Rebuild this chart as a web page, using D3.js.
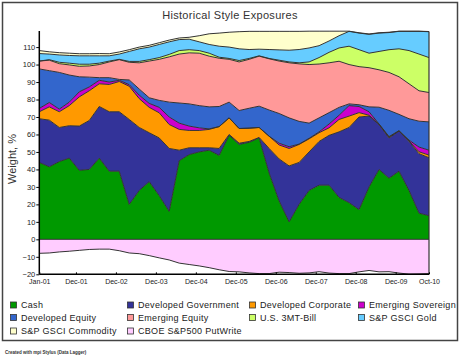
<!DOCTYPE html>
<html><head><meta charset="utf-8">
<script src="https://cdn.jsdelivr.net/npm/d3@7"></script>
<style>body{margin:0;background:#fff}svg{display:block}</style>
</head><body><svg id="c" width="461" height="360"></svg>
<script>
const dates = ["2001-01","2001-04","2001-07","2001-10","2002-01","2002-04","2002-07","2002-10",
"2003-01","2003-04","2003-07","2003-10","2004-01","2004-04","2004-07","2004-10",
"2005-01","2005-04","2005-07","2005-10","2006-01","2006-04","2006-07","2006-10",
"2007-01","2007-04","2007-07","2007-10","2008-01","2008-04","2008-07","2008-10",
"2009-01","2009-04","2009-07","2009-10","2010-01","2010-04","2010-07","2010-10"];
const cash      = [44,41.5,44.5,46.5,39.5,40,46.5,39,39,20,28,33,25,16,45,48.5,50,51,48,59.5,54.3,55.5,58,38,22,10,20,28,31,31,24,21,17,30,40,35,39,28,15,13.5];
const devGov    = [25,26.7,19.5,18.5,25.3,28,29.5,34,34,48.6,36,28,33,36,6,3.9,2.4,1.4,4,0.5,0.7,0.5,0.3,14,24,32,24,22,25,28.5,37.5,43,53,40.5,25.7,23,23,28,34,33.2];
const devCorp   = [4,7.6,9,11.5,16.7,17,13,15.6,17.3,19,16.5,14.5,14.4,13.7,11.9,9.9,9.9,10.5,12.5,9.5,8.4,7.6,5.7,7,8,10,10.3,7.5,5,4.3,7.1,6.5,2.5,0.5,0.2,0.5,0,0.3,1.1,1.5];
const emSov     = [1.9,2.5,1.5,2,2.9,2.2,2,1.4,0.7,0.9,2,2.3,3.1,4.3,3.6,2.5,1.5,0.3,0,0,0,0,0,0,1,1,0.2,0.3,0.5,2.2,2.4,6,3.5,2,0.1,0.3,0.2,0.5,2.7,2.8];
const devEq     = [22.6,18.2,21,15.5,8.6,5.6,1.5,2.5,0.5,2.7,3.5,3.2,4,8.5,11.5,12.7,12.7,12.6,11.5,9,10.3,11.4,12.2,15,17,16.5,13,8.7,8,6.5,4.5,1,1,2.8,9.6,15,9.3,12.2,14.8,16.2];
const emEq      = [4.5,6,5,5.8,6,6.4,7.5,9,11.3,10.1,15,21,23.5,25.9,28,29.2,30,29,27.6,24.5,27.8,28,28.6,29.3,30,31.5,32.9,33.5,30.8,28.5,26.4,22.5,21.8,22.4,21.4,21.7,21.5,20,17.4,16.8];
const tBill     = [0,0.3,0.8,1,1.2,1,0.8,0.5,0.2,0.5,0.8,0.8,1,1.4,2,1.8,1.5,1.7,0.6,0.5,0.8,0.5,0.2,0.2,0.5,0.5,0.6,1.5,3.7,6,7.6,10.5,9.7,8.3,10.5,13,16,19,21,20];
const gold      = [4.3,3.2,4.2,4.4,4.8,4.8,4.2,3,3,5.7,7.2,7.2,7.5,7.2,6.3,6,5,5,6.3,6.5,6.7,5.1,3.8,5.1,5.9,6.7,7.6,8,6.8,6.5,7,8.5,9.5,10.8,10.5,9.8,10,11,13,14.8];
const commodity = [1.7,1.3,1.3,1.3,1.2,1.2,1.3,1.2,1.2,1,1,1,1,1,0.9,1.1,3.5,6.1,7.5,8.5,9.8,10.4,10.2,10.4,10.6,10.8,10.4,9.6,8.3,5.6,2.6,0.1,0.2,0.2,0.2,0.2,0.1,0.1,0.1,0.1];
const putWrite  = [-8,-7.8,-7.2,-6.8,-6.3,-5.8,-5.6,-5.6,-6.5,-7.8,-8.2,-9.3,-10.6,-11.8,-13.6,-14.4,-15.2,-16.2,-17.4,-18.4,-18.6,-19.2,-19.6,-19.6,-18.8,-19,-19.4,-19.2,-18.5,-19.3,-19.6,-19.6,-18.6,-17.8,-18.6,-18.5,-19.3,-19.9,-19.8,-19.6];
const seriesNames = ["Cash","Developed Government","Developed Corporate","Emerging Sovereign","Developed Equity","Emerging Equity","U.S. 3MT-Bill","S&P GSCI Gold","S&P GSCI Commodity","CBOE S&P500 PutWrite"];
const colors = ["#009900","#333399","#FF9900","#CC00CC","#3366CC","#FF9999","#CCFF66","#66CCFF","#FFFFCC","#FFCCFF"];
const yTicks = [-20,-10,0,10,20,30,40,50,60,70,80,90,100,110];
const xTickDates = ["2001-01","2001-12","2002-12","2003-12","2004-12","2005-12","2006-12","2007-12","2008-12","2009-12","2010-10"];

const parse = d3.timeParse("%Y-%m");
const monthIdx = s => { const d = parse(s); return (d.getFullYear()-2001)*12 + d.getMonth(); };
const stackedArrays = [cash,devGov,devCorp,emSov,devEq,emEq,tBill,gold,commodity];
const keys = seriesNames.slice(0,9);
const table = dates.map((d,i) => { const o = {m: monthIdx(d)}; keys.forEach((k,j)=>o[k]=stackedArrays[j][i]); o.put = putWrite[i]; return o; });

const svg = d3.select("#c");
svg.append("rect").attr("x",0).attr("y",0).attr("width",461).attr("height",360).attr("fill","#fff");
svg.append("rect").attr("x",2.5).attr("y",2.5).attr("width",455).attr("height",338).attr("fill","none").attr("stroke","#444").attr("stroke-width",1.5);

const x = d3.scaleLinear().domain([0, 117]).range([39.3, 429]);
const y = d3.scaleLinear().domain([-20, 119.2]).range([274.3, 31]);

const stack = d3.stack().keys(keys)(table);
const area = d3.area().x(d=>x(d.data.m)).y0(d=>y(d[0])).y1(d=>y(d[1]));
svg.append("g").selectAll("path").data(stack).join("path").attr("d",area).attr("fill",(d,i)=>colors[i]);
const putArea = d3.area().x(d=>x(d.m)).y0(y(0)).y1(d=>y(d.put));
svg.append("path").datum(table).attr("d",putArea).attr("fill",colors[9]);

const line = d3.line().x(d=>x(d.data.m)).y(d=>y(d[1]));
svg.append("g").selectAll("path").data(stack).join("path").attr("d",line).attr("fill","none").attr("stroke","#333").attr("stroke-width",1);
svg.append("path").datum(table).attr("d",d3.line().x(d=>x(d.m)).y(d=>y(d.put))).attr("fill","none").attr("stroke","#333").attr("stroke-width",1);
svg.append("line").attr("x1",x(0)).attr("x2",x(117)).attr("y1",y(0)).attr("y2",y(0)).attr("stroke","#333");
const last = table[table.length-1];
svg.append("line").attr("x1",x(117)).attr("x2",x(117)).attr("y1",y(stack[8][stack[8].length-1][1])).attr("y2",y(-20)).attr("stroke","#333").attr("stroke-width",1.2);

// axes
const yAxis = d3.axisLeft(y).tickValues(yTicks).tickSize(3).tickPadding(1);
const gy = svg.append("g").attr("transform","translate(39.3,0)").call(yAxis);
gy.select(".domain").attr("d","M0,31V274.3").attr("stroke","#000").attr("stroke-width",1.5);
gy.selectAll("text").attr("font-family","Liberation Sans, Arial, sans-serif").attr("font-size",7.5).attr("fill","#222");
const xAxis = d3.axisBottom(x).tickValues(xTickDates.map(monthIdx)).tickSize(-2).tickPadding(5)
  .tickFormat(m => d3.timeFormat("%b-%y")(new Date(2001, m, 1)));
const gx = svg.append("g").attr("transform","translate(0,274.3)").call(xAxis);
gx.select(".domain").attr("d","M39.3,0H429").attr("stroke","#000").attr("stroke-width",1.5);
gx.selectAll("text").attr("font-family","Liberation Sans, Arial, sans-serif").attr("font-size",7).attr("fill","#222");

svg.append("text").attr("x",230).attr("y",19).attr("text-anchor","middle").attr("font-family","Liberation Sans, Arial, sans-serif").attr("font-size",11).attr("fill","#333").attr("letter-spacing",0.3).text("Historical Style Exposures");
svg.append("text").attr("transform","translate(16,159) rotate(-90)").attr("text-anchor","middle").attr("font-family","Liberation Sans, Arial, sans-serif").attr("font-size",11).attr("fill","#333").text("Weight, %");

// legend
const colX = [10,127,249,358], rowY = [305,317.5,331];
const lg = svg.append("g");
seriesNames.forEach((n,i) => {
  const c = i%4, r = Math.floor(i/4);
  lg.append("rect").attr("x",colX[c]+0.5).attr("y",rowY[r]-3).attr("width",6).attr("height",6).attr("fill",colors[i]).attr("stroke","#333").attr("stroke-width",0.8);
  lg.append("text").attr("x",colX[c]+11).attr("y",rowY[r]+3.2).attr("font-family","Liberation Sans, Arial, sans-serif").attr("font-size",9).attr("letter-spacing",0.3).attr("fill","#222").text(n);
});
svg.append("text").attr("x",5).attr("y",354).attr("font-family","Liberation Sans, Arial, sans-serif").attr("font-size",4.5).attr("font-weight","bold").attr("fill","#333").text("Created with mpi Stylus (Data Lagger)");
</script></body></html>
